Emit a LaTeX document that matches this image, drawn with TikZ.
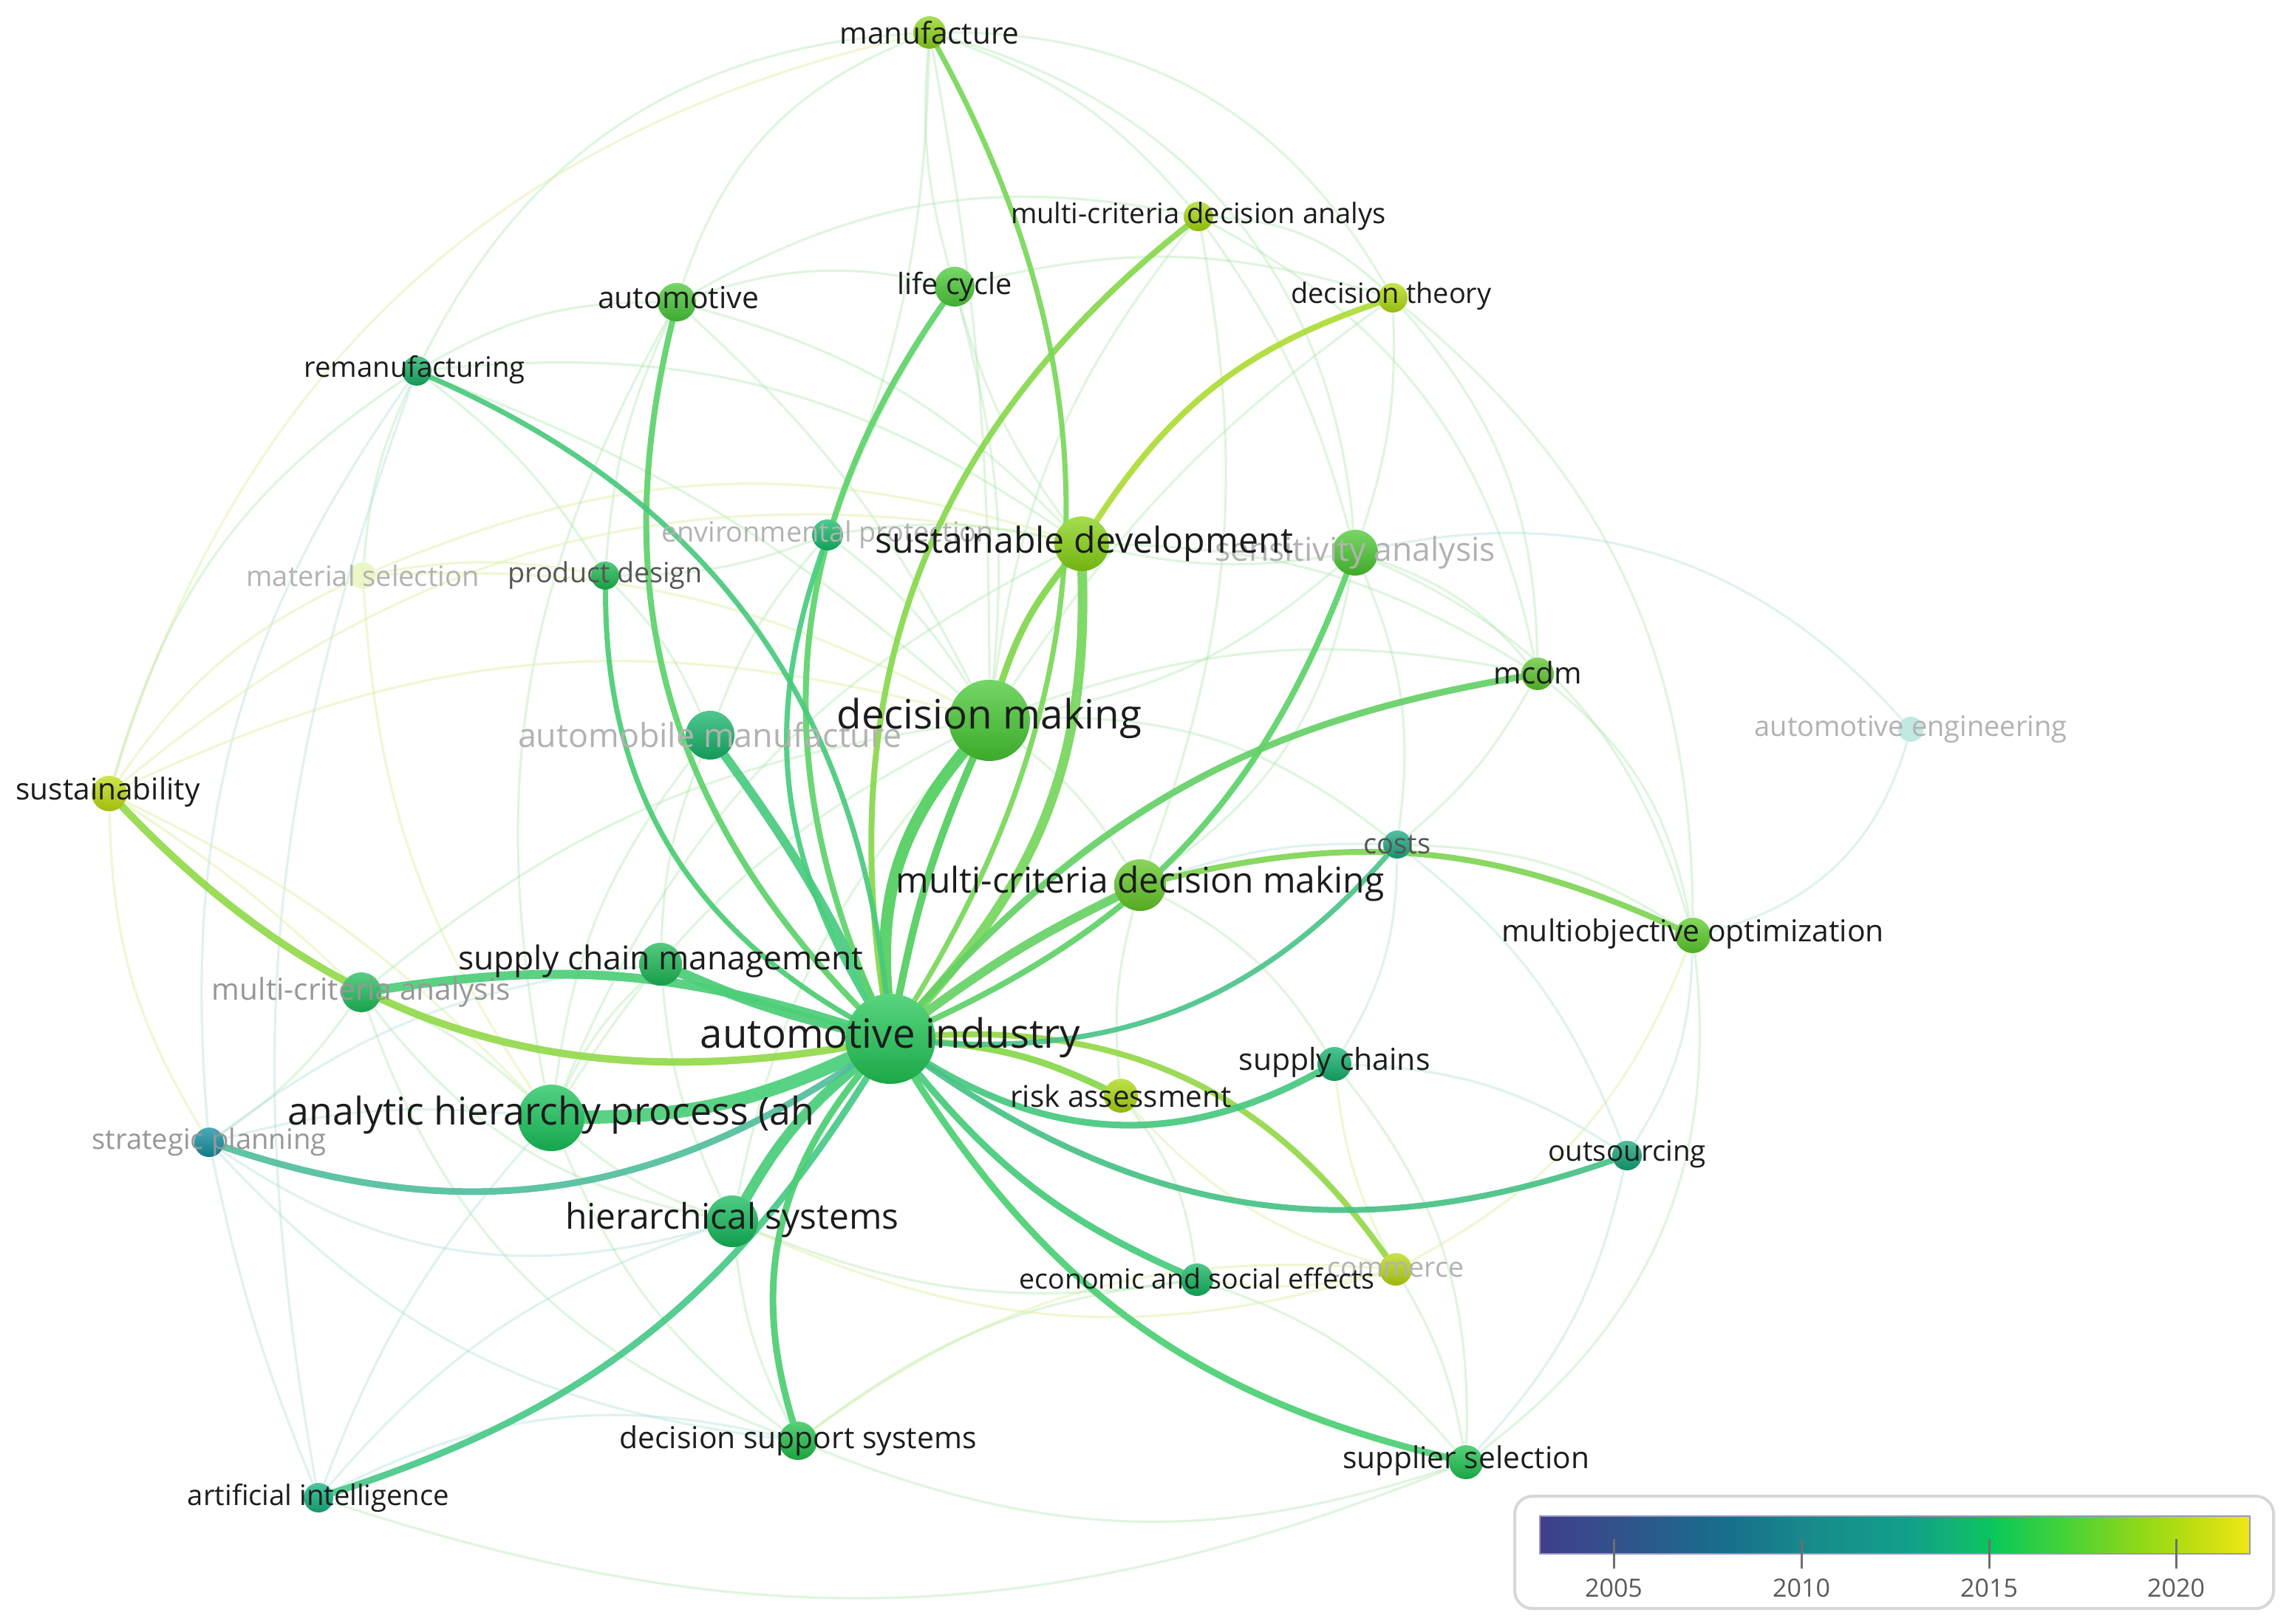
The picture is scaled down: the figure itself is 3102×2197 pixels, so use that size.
\documentclass[tikz,border=0pt]{standalone}
\usepackage{fontspec}
\setmainfont{Open Sans}
\usepackage{graphicx}
\newcommand{\lw}[2]{\resizebox{\dimexpr #1pt/4\relax}{!}{#2}}
% node colours
\definecolor{cAI}{RGB}{32,198,84}
\definecolor{cDM}{RGB}{70,200,50}
\definecolor{cAHP}{RGB}{25,195,90}
\definecolor{cHier}{RGB}{20,185,90}
\definecolor{cSD}{RGB}{135,210,20}
\definecolor{cSA}{RGB}{75,200,50}
\definecolor{cMCDMk}{RGB}{100,200,40}
\definecolor{cAM}{RGB}{22,180,105}
\definecolor{cSCM}{RGB}{28,185,85}
\definecolor{cMCA}{RGB}{30,190,90}
\definecolor{cAuto}{RGB}{72,200,55}
\definecolor{cLC}{RGB}{76,203,57}
\definecolor{cManu}{RGB}{140,212,28}
\definecolor{cMCDA}{RGB}{168,216,16}
\definecolor{cDT}{RGB}{178,220,18}
\definecolor{cReman}{RGB}{23,176,101}
\definecolor{cEnv}{RGB}{18,187,104}
\definecolor{cPD}{RGB}{26,185,77}
\definecolor{cMS}{RGB}{200,230,90}
\definecolor{cMCDM}{RGB}{92,198,44}
\definecolor{cAE}{RGB}{80,190,170}
\definecolor{cSus}{RGB}{192,220,16}
\definecolor{cCosts}{RGB}{26,170,128}
\definecolor{cMO}{RGB}{92,204,42}
\definecolor{cSC}{RGB}{19,176,108}
\definecolor{cRisk}{RGB}{168,216,14}
\definecolor{cStrat}{RGB}{19,143,160}
\definecolor{cOut}{RGB}{20,164,120}
\definecolor{cEcon}{RGB}{19,181,96}
\definecolor{cComm}{RGB}{184,216,16}
\definecolor{cDSS}{RGB}{32,192,74}
\definecolor{cSup}{RGB}{30,194,80}
\definecolor{cArt}{RGB}{20,176,128}
% other colours
\definecolor{txt}{RGB}{28,28,28}
\definecolor{txtfade}{RGB}{178,178,178}
\definecolor{txtmid}{RGB}{85,85,85}
\definecolor{fG}{RGB}{165,228,165}
\definecolor{fY}{RGB}{218,240,160}
\definecolor{fT}{RGB}{165,220,215}
\definecolor{legline}{RGB}{215,215,215}
\definecolor{tick}{RGB}{110,110,110}
\definecolor{legtxt}{RGB}{90,90,90}
\definecolor{barline}{RGB}{150,150,185}
% legend bar colours
\definecolor{v0}{RGB}{64,62,140}
\definecolor{v1}{RGB}{48,84,140}
\definecolor{v2}{RGB}{24,110,140}
\definecolor{v3}{RGB}{24,138,138}
\definecolor{v4}{RGB}{18,160,138}
\definecolor{v5}{RGB}{16,184,110}
\definecolor{v6}{RGB}{8,200,90}
\definecolor{v7}{RGB}{70,210,55}
\definecolor{v8}{RGB}{140,216,25}
\definecolor{v9}{RGB}{190,222,18}
\definecolor{v10}{RGB}{242,230,20}
\pgfdeclarehorizontalshading{vos}{100bp}{color(0bp)=(v0); color(25bp)=(v0); color(31bp)=(v1); color(38bp)=(v2); color(44bp)=(v3); color(51bp)=(v4); color(55bp)=(v5); color(57bp)=(v6); color(62bp)=(v7); color(67bp)=(v8); color(71bp)=(v9); color(75bp)=(v10); color(100bp)=(v10)}
\pgfdeclarelayer{bgfill}
\pgfdeclarelayer{faint}
\pgfdeclarelayer{edges}
\pgfsetlayers{bgfill,faint,edges,main}
\tikzset{
  kw/.style 2 args={circle, inner sep=0pt, minimum size={0.25*#1}, draw=none,
    top color=#2!75!white, bottom color=#2!85!black},
  kwfade/.style 2 args={circle, inner sep=0pt, minimum size={0.25*#1}, draw=none,
    fill=#2, opacity=0.35},
  lab/.style={text=txt, inner sep=0pt},
  labfade/.style={text=txtfade, inner sep=0pt},
  labmid/.style={text=txtmid, inner sep=0pt},
  ed/.style 2 args={draw=#1, line width={0.25*#2}, line cap=round, opacity=0.92},
  fe/.style={draw=fG, line width=0.8, opacity=0.35},
  fy/.style={draw=fY, line width=0.8, opacity=0.45},
  ft/.style={draw=fT, line width=0.8, opacity=0.35},
  leg/.style={text=legtxt, inner sep=0pt, font=\fontsize{8.5}{10}\selectfont},
}
\begin{document}
\begin{tikzpicture}[x=0.25pt,y=0.25pt]
\begin{pgfonlayer}{bgfill}
\fill[white] (0,0) rectangle (3102,2197);
\end{pgfonlayer}
\useasboundingbox (0,0) rectangle (3102,2197);

% ---------------- nodes ----------------
\node[kw={122}{cAI}] (AI) at (1205,791) {};
\node[kw={110}{cDM}] (DM) at (1339,1222) {};
\node[kw={90}{cAHP}] (AHP) at (746,684) {};
\node[kw={70}{cHier}] (Hier) at (991,544) {};
\node[kw={74}{cSD}] (SD) at (1464,1461) {};
\node[kw={62}{cSA}] (SA) at (1834,1449) {};
\node[kw={70}{cMCDMk}] (MCDMk) at (1543,999) {};
\node[kw={66}{cAM}] (AM) at (961,1202) {};
\node[kw={58}{cSCM}] (SCM) at (894,892) {};
\node[kw={54}{cMCA}] (MCA) at (489,854) {};
\node[kw={52}{cAuto}] (Auto) at (916,1788) {};
\node[kw={54}{cLC}] (LC) at (1292,1809) {};
\node[kw={44}{cManu}] (Manu) at (1258,2153) {};
\node[kw={40}{cMCDA}] (MCDA) at (1622,1904) {};
\node[kw={40}{cDT}] (DT) at (1885,1794) {};
\node[kw={40}{cReman}] (Reman) at (564,1695) {};
\node[kw={42}{cEnv}] (Env) at (1120,1473) {};
\node[kw={38}{cPD}] (PD) at (819,1418) {};
\node[kwfade={36}{cMS}] (MS) at (491,1418) {};
\node[kw={44}{cMCDM}] (MCDM) at (2081,1285) {};
\node[kwfade={34}{cAE}] (AE) at (2586,1210) {};
\node[kw={48}{cSus}] (Sus) at (148,1123) {};
\node[kw={38}{cCosts}] (Costs) at (1891,1054) {};
\node[kw={48}{cMO}] (MO) at (2291,931) {};
\node[kw={46}{cSC}] (SC) at (1806,757) {};
\node[kw={46}{cRisk}] (Risk) at (1517,714) {};
\node[kw={40}{cStrat}] (Strat) at (283,651) {};
\node[kw={40}{cOut}] (Out) at (2202,633) {};
\node[kw={44}{cEcon}] (Econ) at (1620,465) {};
\node[kw={44}{cComm}] (Comm) at (1889,479) {};
\node[kw={52}{cDSS}] (DSS) at (1080,247) {};
\node[kw={46}{cSup}] (Sup) at (1984,218) {};
\node[kw={40}{cArt}] (Art) at (431,170) {};

% ---------------- faint background links ----------------
\begin{pgfonlayer}{faint}
\draw[fe] (Manu) to[bend right=25] (Auto);
\draw[fe] (Manu) to[bend right=10] (LC);
\draw[fe] (Manu) to[bend left=15] (MCDA);
\draw[fe] (Manu) to[bend left=30] (DT);
\draw[fe] (Manu) to[bend left=35] (SA);
\draw[fe] (Manu) to[bend right=30] (Reman);
\draw[fy] (Manu) to[bend right=30] (Sus);
\draw[fe] (Manu) to[bend left=5] (DM);
\draw[fe] (Manu) to[bend left=10] (Env);
\draw[fe] (MCDA) to[bend left=20] (DT);
\draw[fe] (MCDA) to[bend left=10] (SA);
\draw[fe] (MCDA) to[bend right=15] (DM);
\draw[fe] (MCDA) to[bend left=15] (MCDMk);
\draw[fe] (MCDA) to[bend right=20] (Auto);
\draw[fe] (MCDA) to[bend left=25] (MCDM);
\draw[fe] (DT) to[bend left=20] (MCDM);
\draw[fe] (DT) to[bend left=10] (SA);
\draw[fe] (DT) to[bend left=25] (MO);
\draw[fe] (DT) to[bend right=10] (DM);
\draw[fe] (DT) to[bend right=15] (LC);
\draw[fe] (Auto) to[bend right=15] (Reman);
\draw[fe] (Auto) to[bend left=15] (LC);
\draw[fe] (Auto) to[bend right=10] (PD);
\draw[fe] (Auto) to[bend left=10] (DM);
\draw[fe] (Auto) to[bend left=15] (SD);
\draw[fe] (Auto) to[bend right=20] (AHP);
\draw[fe] (Reman) to[bend left=10] (PD);
\draw[fe] (Reman) to[bend right=10] (MS);
\draw[fe] (Reman) to[bend right=20] (Sus);
\draw[ft] (Reman) to[bend right=15] (Art);
\draw[ft] (Reman) to[bend right=20] (Strat);
\draw[fe] (Reman) to[bend left=10] (DM);
\draw[fe] (Reman) to[bend left=20] (SD);
\draw[fy] (MS) to[bend right=15] (Sus);
\draw[fy] (MS) to[bend left=10] (PD);
\draw[fy] (MS) to[bend left=15] (DM);
\draw[fy] (MS) to[bend left=20] (SD);
\draw[fy] (MS) to[bend right=15] (AHP);
\draw[fy] (Sus) to[bend left=5] (MCA);
\draw[fy] (Sus) to[bend right=15] (Strat);
\draw[fy] (Sus) to[bend left=10] (AHP);
\draw[fy] (Sus) to[bend left=25] (SD);
\draw[fy] (Sus) to[bend left=20] (DM);
\draw[fe] (MCA) to[bend left=10] (Strat);
\draw[fe] (MCA) to[bend left=10] (AHP);
\draw[fe] (MCA) to[bend right=20] (Hier);
\draw[fe] (MCA) to[bend left=15] (DM);
\draw[fe] (MCA) to[bend right=25] (DSS);
\draw[ft] (Strat) to[bend left=10] (AHP);
\draw[ft] (Strat) to[bend right=25] (Hier);
\draw[ft] (Strat) to[bend right=5] (Art);
\draw[ft] (Strat) to[bend right=20] (DSS);
\draw[ft] (Strat) to[bend left=15] (SCM);
\draw[ft] (Art) to[bend left=15] (Hier);
\draw[ft] (Art) to[bend left=20] (DSS);
\draw[ft] (Art) to[bend left=10] (AHP);
\draw[fe] (Art) to[bend right=20] (Sup);
\draw[fe] (DSS) to[bend left=10] (Hier);
\draw[fe] (DSS) to[bend right=20] (Sup);
\draw[fe] (DSS) to[bend left=15] (Econ);
\draw[fe] (DSS) to[bend left=15] (AHP);
\draw[fy] (DSS) to[bend left=20] (Comm);
\draw[fe] (Sup) to[bend right=15] (Econ);
\draw[fe] (Sup) to[bend right=10] (Comm);
\draw[ft] (Sup) to[bend right=15] (Out);
\draw[fe] (Sup) to[bend right=20] (SC);
\draw[fe] (Sup) to[bend right=30] (MO);
\draw[fy] (Comm) to[bend left=10] (Econ);
\draw[fy] (Comm) to[bend left=10] (SC);
\draw[fy] (Comm) to[bend left=15] (Risk);
\draw[fy] (Comm) to[bend right=20] (MO);
\draw[fy] (Comm) to[bend left=20] (Hier);
\draw[ft] (Out) to[bend right=15] (MO);
\draw[ft] (Out) to[bend right=15] (SC);
\draw[ft] (Out) to[bend right=15] (Costs);
\draw[fe] (MO) to[bend right=20] (MCDM);
\draw[ft] (MO) to[bend right=30] (AE);
\draw[fe] (MO) to[bend right=15] (Costs);
\draw[fe] (MO) to[bend right=25] (SA);
\draw[ft] (AE) to[bend right=30] (SA);
\draw[fe] (MCDM) to[bend right=15] (SA);
\draw[fe] (MCDM) to[bend right=15] (DM);
\draw[fe] (MCDM) to[bend right=15] (SD);
\draw[fe] (MCDM) to[bend left=10] (Costs);
\draw[fe] (SA) to[bend left=10] (SD);
\draw[fe] (SA) to[bend left=15] (DM);
\draw[fe] (SA) to[bend left=15] (Costs);
\draw[fe] (SA) to[bend left=22] (MCDMk);
\draw[ft] (Costs) to[bend right=10] (MCDMk);
\draw[ft] (Costs) to[bend left=15] (SC);
\draw[fe] (Costs) to[bend right=20] (DM);
\draw[fe] (Econ) to[bend right=15] (Risk);
\draw[fe] (Econ) to[bend left=15] (Hier);
\draw[fe] (SD) to[bend right=10] (Env);
\draw[fe] (Env) to[bend left=10] (DM);
\draw[fe] (Env) to[bend left=10] (PD);
\draw[fe] (Env) to[bend right=10] (AM);
\draw[fe] (PD) to[bend left=10] (AM);
\draw[fe] (AM) to[bend right=10] (SCM);
\draw[fe] (AM) to[bend right=15] (AHP);
\draw[fe] (AHP) to[bend right=10] (Hier);
\draw[fe] (AHP) to[bend left=10] (SCM);
\draw[fe] (Hier) to[bend left=10] (SCM);
\draw[fe] (MCDMk) to[bend right=10] (DM);
\draw[fe] (MCDMk) to[bend left=15] (SC);
\draw[fe] (MCDMk) to[bend right=10] (Risk);
\draw[fe] (DM) to[bend right=15] (AHP);
\draw[fe] (DM) to[bend right=15] (Hier);
\draw[fe] (SD) to[bend right=20] (AHP);
\draw[fe] (LC) to[bend right=10] (SD);
\draw[fe] (LC) to[bend left=10] (DM);
\draw[fe] (LC) to[bend right=5] (Env);
\end{pgfonlayer}

% ---------------- strong links ----------------
\begin{pgfonlayer}{edges}
\draw[ed={cDM!50!cAI!85!white}{16}] (AI) to[bend left=22] (DM);
\draw[ed={cDM!50!cAI!85!white}{10}] (AI) to[bend left=6] (DM);
\draw[ed={cSD!50!cAI!80!white}{13}] (AI) to[bend right=22] (SD);
\draw[ed={cSD!50!cDM!82!white}{9}] (SD) to[bend right=10] (DM);
\draw[ed={cMCDMk!50!cAI!80!white}{12}] (AI) to[bend left=5] (MCDMk);
\draw[ed={cSA!50!cAI!80!white}{8}] (AI) to[bend right=22] (SA);
\draw[ed={cAHP!50!cAI!80!white}{18}] (AI) to[bend left=12] (AHP);
\draw[ed={cHier!50!cAI!80!white}{14}] (AI) to[bend right=10] (Hier);
\draw[ed={cSCM!50!cAI!80!white}{14}] (AI) to[bend left=5] (SCM);
\draw[ed={cAM!50!cAI!80!white}{12}] (AI) to[bend right=5] (AM);
\draw[ed={cMCA!50!cAI!80!white}{12}] (AI) to[bend right=13] (MCA);
\draw[ed={cSus!60!cAI!85!white}{10}] (AI) to[bend left=28] (Sus);
\draw[ed={cStrat!55!cAI!75!white}{9}] (AI) to[bend left=26] (Strat);
\draw[ed={cArt!50!cAI!80!white}{9}] (AI) to[bend left=20] (Art);
\draw[ed={cDSS!50!cAI!80!white}{9}] (AI) to[bend right=28] (DSS);
\draw[ed={cSup!50!cAI!80!white}{9}] (AI) to[bend right=22] (Sup);
\draw[ed={cEcon!50!cAI!80!white}{9}] (AI) to[bend right=13] (Econ);
\draw[ed={cComm!65!cAI!85!white}{8}] (AI) to[bend left=29] (Comm);
\draw[ed={cRisk!60!cAI!85!white}{9}] (AI) to[bend left=10] (Risk);
\draw[ed={cSC!50!cAI!80!white}{9}] (AI) to[bend right=30] (SC);
\draw[ed={cOut!55!cAI!80!white}{8}] (AI) to[bend right=27] (Out);
\draw[ed={cCosts!55!cAI!80!white}{7}] (AI) to[bend right=26] (Costs);
\draw[ed={cMCDM!50!cAI!80!white}{9}] (AI) to[bend left=19] (MCDM);
\draw[ed={cMCDA!60!cAI!85!white}{8}] (AI) to[bend left=30] (MCDA);
\draw[ed={cManu!55!cAI!82!white}{7}] (AI) to[bend right=30] (Manu);
\draw[ed={cLC!50!cAI!80!white}{8}] (AI) to[bend left=29] (LC);
\draw[ed={cEnv!50!cAI!80!white}{7}] (AI) to[bend left=25] (Env);
\draw[ed={cAuto!50!cAI!80!white}{8}] (AI) to[bend left=29] (Auto);
\draw[ed={cReman!50!cAI!80!white}{7}] (AI) to[bend right=30] (Reman);
\draw[ed={cPD!50!cAI!80!white}{7}] (AI) to[bend left=30] (PD);
\draw[ed={cDT!55!cSD!85!white}{8}] (DT) to[bend right=19] (SD);
\draw[ed={cMO!50!cMCDMk!80!white}{8}] (MCDMk) to[bend left=19] (MO);
\end{pgfonlayer}

% ---------------- labels (faded first) ----------------
\node[labfade] (Env-t) at (1120,1473) {\lw{450}{environmental protection}};
\node[labfade] (MS-t) at (491,1418) {\lw{315}{material selection}};
\node[labfade] (SA-t) at (1834,1449) {\lw{380}{sensitivity analysis}};
\node[labfade] (AM-t) at (961,1202) {\lw{520}{automobile manufacture}};
\node[labfade] (AE-t) at (2586,1210) {\lw{423}{automotive engineering}};
\node[labfade, text=txtfade!85!black] (MCA-t) at (489,854) {\lw{404}{multi-criteria analysis}};
\node[labfade, text=txtfade!85!black] (Strat-t) at (283,651) {\lw{317}{strategic planning}};
\node[labfade] (Comm-t) at (1889,479) {\lw{185}{commerce}};
\node[labmid] (PD-t) at (819,1418) {\lw{263}{product design}};
\node[labmid] (Costs-t) at (1891,1054) {\lw{91}{costs}};

\node[lab] (AI-t) at (1205,793) {\lw{514}{automotive industry}};
\node[lab] (DM-t) at (1339,1225) {\lw{413}{decision making}};
\node[lab] (AHP-t) at (746,688) {\lw{712}{analytic hierarchy process (ah}};
\node[lab] (SD-t) at (1467,1461) {\lw{566}{sustainable development}};
\node[lab] (MCDMk-t) at (1543,1001) {\lw{661}{multi-criteria decision making}};
\node[lab] (Hier-t) at (991,546) {\lw{451}{hierarchical systems}};
\node[lab] (SCM-t) at (894,896) {\lw{548}{supply chain management}};
\node[lab] (MO-t) at (2291,933) {\lw{518}{multiobjective optimization}};
\node[lab] (DSS-t) at (1080,247) {\lw{483}{decision support systems}};
\node[lab] (Sup-t) at (1984,220) {\lw{334}{supplier selection}};
\node[lab] (SC-t) at (1806,759) {\lw{259}{supply chains}};
\node[lab] (Risk-t) at (1517,714) {\lw{299}{risk assessment}};
\node[lab] (Out-t) at (2202,635) {\lw{214}{outsourcing}};
\node[lab] (Econ-t) at (1620,467) {\lw{481}{economic and social effects}};
\node[lab] (Art-t) at (431,170) {\lw{354}{artificial intelligence}};
\node[lab] (Sus-t) at (146,1125) {\lw{249}{sustainability}};
\node[lab] (MCDM-t) at (2081,1287) {\lw{119}{mcdm}};
\node[lab] (Reman-t) at (561,1697) {\lw{299}{remanufacturing}};
\node[lab] (Auto-t) at (918,1794) {\lw{218}{automotive}};
\node[lab] (LC-t) at (1292,1809) {\lw{156}{life cycle}};
\node[lab] (DT-t) at (1883,1796) {\lw{271}{decision theory}};
\node[lab] (MCDA-t) at (1622,1904) {\lw{508}{multi-criteria decision analys}};
\node[lab] (Manu-t) at (1258,2153) {\lw{243}{manufacture}};

% ---------------- legend ----------------
\draw[draw=legline, line width=1, rounded corners=6, fill=white] (2050,20) rectangle (3077,172);
\shade[shading=vos] (2084,94) rectangle (3045,145);
\draw[draw=barline, line width=0.5] (2084,94) rectangle (3045,145);
\coordinate (t05a) at (2184,74); \coordinate (t05b) at (2184,114);
\coordinate (t10a) at (2438,74); \coordinate (t10b) at (2438,114);
\coordinate (t15a) at (2692,74); \coordinate (t15b) at (2692,114);
\coordinate (t20a) at (2945,74); \coordinate (t20b) at (2945,114);
\draw[tick, line width=0.75] (t05a) -- (t05b);
\draw[tick, line width=0.75] (t10a) -- (t10b);
\draw[tick, line width=0.75] (t15a) -- (t15b);
\draw[tick, line width=0.75] (t20a) -- (t20b);
\node[leg] (y05) at (2184,48) {2005};
\node[leg] (y10) at (2438,48) {2010};
\node[leg] (y15) at (2692,48) {2015};
\node[leg] (y20) at (2945,48) {2020};
\end{tikzpicture}
\end{document}
